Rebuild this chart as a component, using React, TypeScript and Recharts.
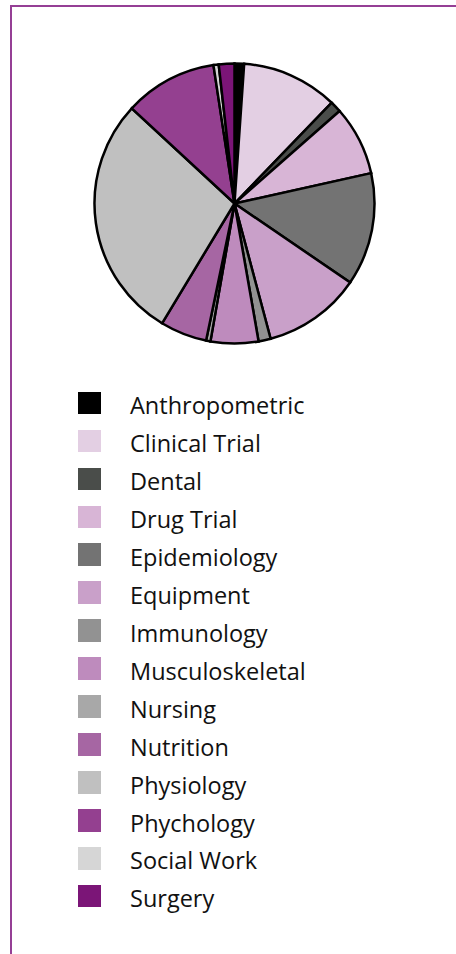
import { Pie, PieChart, Cell } from "recharts";

const CATEGORIES = [
  "Anthropometric", "Clinical Trial", "Dental", "Drug Trial", "Epidemiology", "Equipment", "Immunology",
  "Musculoskeletal", "Nursing", "Nutrition", "Physiology", "Phychology", "Social Work", "Surgery",
];
const SHARES = [1.1, 11.1, 1.3, 8.0, 13.0, 11.3, 1.4, 5.5, 0.5, 5.4, 28.2, 10.7, 0.6, 1.8];
const COLORS = [
  "#000000", "#e3cfe3", "#4a4d4a", "#d8b5d6", "#737373", "#c9a0c9", "#929292",
  "#be8bbd", "#a8a8a8", "#a666a3", "#c0c0c0", "#944090", "#d6d6d6", "#7b1577",
];

const data = CATEGORIES.map((name, i) => ({ name, value: SHARES[i] }));

const FONT = "'Open Sans', Lato, sans-serif";

function SquareLegend() {
  return (
    <div style={{ position: "absolute", left: 78, top: 390, width: 340, fontFamily: FONT }}>
      {CATEGORIES.map((name, i) => (
        <div key={name} style={{ position: "relative", height: 37.95 }}>
          <div style={{ position: "absolute", left: 0.3, top: 1.7, width: 23, height: 22.6, background: COLORS[i] }} />
          <span style={{ position: "absolute", left: 52, top: 1.2, fontSize: 23.5, lineHeight: "28px", color: "#111", whiteSpace: "nowrap" }}>
            {name}
          </span>
        </div>
      ))}
    </div>
  );
}

export default function App() {
  return (
    <div style={{ position: "absolute", left: 0, top: 0, width: 456, height: 954, background: "#fff" }}>
      <div style={{ position: "absolute", left: 10, top: 5, right: 0, bottom: 0, borderTop: "2px solid #953f95", borderLeft: "2px solid #953f95" }} />
      <PieChart width={456} height={360} style={{ position: "absolute", left: 0, top: 0 }} margin={{ top: 0, right: 0, bottom: 0, left: 0 }}>
        <Pie
          data={data}
          dataKey="value"
          nameKey="name"
          cx={234.5}
          cy={203.5}
          outerRadius={140}
          startAngle={90}
          endAngle={-270}
          stroke="#000"
          strokeWidth={2.5}
          isAnimationActive={false}
        >
          {data.map((_, i) => <Cell key={i} fill={COLORS[i]} />)}
        </Pie>
      </PieChart>
      <SquareLegend />
    </div>
  );
}
